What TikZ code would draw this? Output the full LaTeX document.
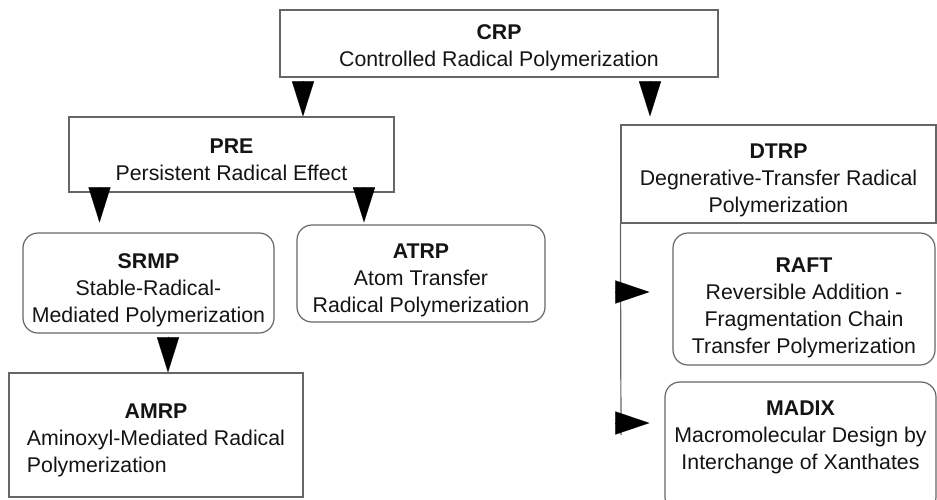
\documentclass[tikz,border=0pt]{standalone}
\usepackage{fontspec}
\setmainfont{Liberation Sans}
\usetikzlibrary{arrows.meta}
\definecolor{linegray}{HTML}{666666}
\definecolor{txt}{HTML}{141414}
\newcommand\tsp[1]{\rule{0pt}{#1pt}}
\begin{document}
\begin{tikzpicture}[x=1pt,y=-1pt,
  box/.style={draw=linegray, line width=1.2pt, fill=white, inner sep=0pt, align=center, text=txt, font=\fontsize{21.3}{27}\selectfont},
  rbox/.style={box, rounded corners=15pt},
  conn/.style={draw=linegray, line width=1.2pt},
  tri/.style={-{Triangle[length=35pt,width=22pt]}, line width=0.1pt, draw=black, fill=black},
  tris/.style={-{Triangle[length=34pt,width=23pt]}, line width=0.1pt, draw=black, fill=black}]
\clip (0,0) rectangle (937,499);
\fill[white] (0,0) rectangle (937,499);

\node[box, minimum width=438pt, minimum height=67pt] (crp) at (499,43.5)
  {\tsp{22.5}\textbf{CRP}\\Controlled Radical Polymerization};
\node[box, minimum width=325pt, minimum height=75pt] (pre) at (231.5,154.5)
  {\tsp{24.5}\textbf{PRE}\\Persistent Radical Effect};
\node[rbox, minimum width=251pt, minimum height=100pt] (srmp) at (148.5,283)
  {\tsp{28.5}\textbf{SRMP}\\Stable-Radical-\\Mediated Polymerization};
\node[rbox, minimum width=248pt, minimum height=97pt] (atrp) at (421,273.5)
  {\tsp{28.5}\textbf{ATRP}\\Atom Transfer\\Radical Polymerization};
\node[box, minimum width=294pt, minimum height=124pt] (amrp) at (156,435)
  {\begin{tabular}{@{}l@{}}\multicolumn{1}{@{}c@{}}{\tsp{29}\textbf{AMRP}}\\Aminoxyl-Mediated Radical\\Polymerization\end{tabular}};
\node[box, minimum width=315pt, minimum height=98pt] (dtrp) at (778.5,174)
  {\tsp{26.5}\textbf{DTRP}\\Degnerative-Transfer Radical\\Polymerization};
\node[rbox, minimum width=262pt, minimum height=132pt] (raft) at (804,299)
  {\tsp{32.5}\textbf{RAFT}\\Reversible Addition -\\Fragmentation Chain\\Transfer Polymerization};
\node[rbox, minimum width=271pt, minimum height=130pt] (madix) at (800.5,447)
  {\textbf{MADIX}\\Macromolecular Design by\\Interchange of Xanthates\\[-3pt]\mbox{}};

% down arrows
\draw[tri, shorten <=5pt] ([xshift=-196pt]crp.south) -- ([xshift=71.5pt]pre.north);
\draw[tri, shorten <=5pt, shorten >=8pt] ([xshift=151pt]crp.south) -- ([xshift=-128.5pt]dtrp.north);
\draw[tri, shorten <=-5pt, shorten >=10pt] ([xshift=-132pt]pre.south) -- ([xshift=-49pt]srmp.north);
\draw[tri, shorten <=-5pt, shorten >=2pt] ([xshift=132.5pt]pre.south) -- ([xshift=-57pt]atrp.north);
\draw[tri, shorten <=3pt, shorten >=0pt] ([xshift=19.5pt]srmp.south) -- ([xshift=12pt]amrp.north);

% DTRP branch
\coordinate (dend) at (621,435);
\draw[conn] (dtrp.south west) -- (dend);
\coordinate (j1) at (616,292);
\coordinate (j2) at (616,423);
\draw[tris, shorten >=23pt] (j1) -- (j1 -| raft.west);
\draw[tris, shorten >=15pt] (j2) -- (j2 -| madix.west);
\end{tikzpicture}
\end{document}
